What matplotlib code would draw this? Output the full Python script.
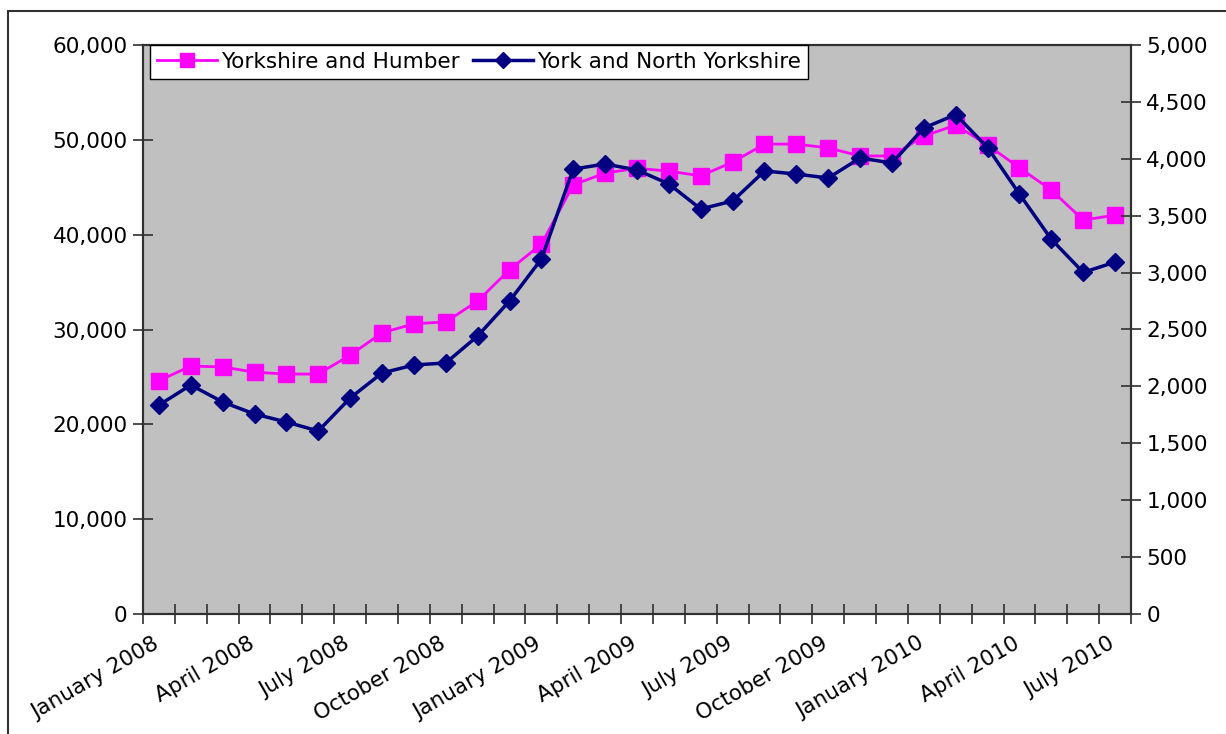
import numpy as np
import matplotlib.pyplot as plt
from matplotlib.patches import Rectangle
from matplotlib.ticker import FuncFormatter, FixedLocator
from matplotlib.transforms import ScaledTranslation

# monthly series, January 2008 .. July 2010
months = ['January', 'February', 'March', 'April', 'May', 'June', 'July',
          'August', 'September', 'October', 'November', 'December']
years = [2008, 2009, 2010]
labels = [f'{m} {y}' for y in years for m in months][:31]

yorks_humber = [24600, 26150, 26050, 25500, 25300, 25300, 27300, 29650, 30600, 30800,
                33000, 36300, 39000, 45250, 46500, 47000, 46700, 46200, 47650, 49550,
                49550, 49150, 48300, 48300, 50400, 51550, 49450, 47050, 44700, 41550, 42050]
york_north = [1836, 2012, 1863, 1757, 1687, 1608, 1898, 2118, 2188, 2206,
              2443, 2750, 3119, 3910, 3954, 3902, 3779, 3559, 3629, 3893,
              3866, 3831, 4007, 3963, 4271, 4388, 4099, 3690, 3293, 3002, 3092]

plt.rcParams['font.family'] = 'DejaVu Sans'
fig = plt.figure(figsize=(12.26, 7.34), dpi=100)
ax = fig.add_axes([143/1226, 1 - 614/734, (1131 - 143)/1226, (614 - 45)/734])
ax.set_facecolor('#c0c0c0')

# outer chart frame
fig.patches.append(Rectangle((8/1226, -0.1), 1.2, (734 - 11)/734 + 0.1,
                             transform=fig.transFigure, fill=False,
                             edgecolor='#303030', lw=1.5, zorder=0))

x = np.arange(len(labels))
l1, = ax.plot(x, yorks_humber, color='#ff00ff', lw=2, marker='s', ms=11,
              label='Yorkshire and Humber', zorder=3)
ax.set_ylim(0, 60000)
ax.set_xlim(-0.5, len(labels) - 0.5)

ax2 = ax.twinx()
l2, = ax2.plot(x, york_north, color='#000080', lw=2.5, marker='D', ms=9,
               label='York and North Yorkshire', zorder=4)
ax2.set_ylim(0, 5000)

fmt = FuncFormatter(lambda v, p: f'{v:,.0f}')
ax.set_yticks(np.arange(0, 60001, 10000))
ax.yaxis.set_major_formatter(fmt)
ax2.set_yticks(np.arange(0, 5001, 500))
ax2.yaxis.set_major_formatter(fmt)

ax.set_xticks(x[::3])
ax.set_xticklabels(labels[::3], rotation=30, ha='right', rotation_mode='anchor')
ax.xaxis.set_minor_locator(FixedLocator(np.arange(-0.5, len(labels), 1)))
ax.tick_params(axis='x', which='major', length=0, pad=14, labelsize=15.5)
ax.tick_params(axis='x', which='minor', direction='inout', length=14, width=1.2, color='#303030')
ax.tick_params(axis='y', direction='inout', length=14, width=1.2, color='#303030',
               labelsize=15.5, pad=4)
ax2.tick_params(axis='y', direction='inout', length=14, width=1.2, color='#303030',
                labelsize=15.5, pad=4)

# nudge the rotated month labels a little to the left
shift = ScaledTranslation(-7/100, 0, fig.dpi_scale_trans)
for t in ax.get_xticklabels():
    t.set_transform(t.get_transform() + shift)

for a in (ax, ax2):
    for s in a.spines.values():
        s.set_color('#303030')
        s.set_linewidth(1.5)

leg = ax2.legend(handles=[l1, l2], loc='upper left', ncol=2, fontsize=15.5,
                 bbox_to_anchor=(0.007, 1.0), borderaxespad=0, frameon=True,
                 fancybox=False, framealpha=1, edgecolor='black',
                 handlelength=2.8, handletextpad=0.2, columnspacing=0.6,
                 borderpad=0.32, markerscale=0.9)
leg.get_frame().set_linewidth(1.0)
leg.set_zorder(10)

fig.savefig('out.png', dpi=100)
